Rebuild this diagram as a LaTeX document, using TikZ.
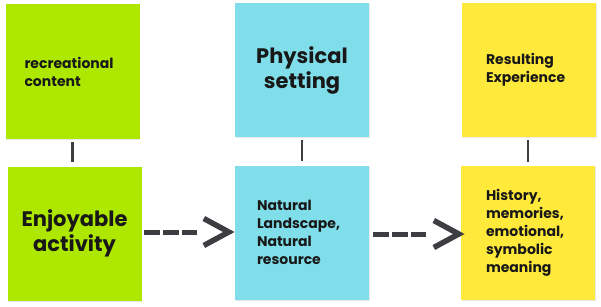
\documentclass[tikz,border=0pt]{standalone}
\usepackage{fontspec}
\setmainfont{Poppins}
\usetikzlibrary{shadows}
\definecolor{boxgreen}{RGB}{174,232,0}
\definecolor{boxcyan}{RGB}{128,222,234}
\definecolor{boxyellow}{RGB}{255,233,59}
\definecolor{ink}{RGB}{24,24,24}
\definecolor{linegray}{RGB}{62,62,66}
\tikzset{
  card/.style={minimum width=134pt, minimum height=134pt, inner sep=0pt, draw=none,
    drop shadow={opacity=0.18, shadow xshift=0.6pt, shadow yshift=-1.2pt},
    text=ink, font=\bfseries},
  small/.style={font=\bfseries\fontsize{14}{18}\selectfont, align=left},
  big/.style={font=\bfseries\fontsize{21}{25}\selectfont, align=center},
  tie/.style={draw=linegray, line width=2.4pt},
  dashline/.style={draw=linegray, line width=5pt, dash pattern=on 15.6pt off 3.2pt},
  chev/.style={draw=linegray, line width=5.5pt, miter limit=10}
}
\begin{document}
\begin{tikzpicture}[x=1pt,y=1pt]
\useasboundingbox (0,0) rectangle (601,306);
\node[card, fill=boxgreen, small, text width=96pt] (g1) at (72.5,234.5) {recreational\\content};
\node[card, fill=boxgreen, big, text width=130pt] (g2) at (74.5,72.5) {Enjoyable\\activity};
\node[card, fill=boxcyan, big, text width=130pt] (c1) at (302,236) {Physical\\setting};
\node[card, fill=boxcyan, small, text width=90pt] (c2) at (302,73.5) {Natural\\Landscape,\\Natural\\resource};
\node[card, fill=boxyellow, small, text width=86pt] (y1) at (529,236) {Resulting\\Experience};
\node[card, fill=boxyellow, small, text width=84pt] (y2) at (528,73.5) {History,\\memories,\\emotional,\\symbolic\\meaning};
% vertical ties
\draw[tie] ([yshift=-3pt]g1.south) -- ([yshift=4pt]g1.south |- g2.north);
\draw[tie] ([yshift=-3pt]c1.south) -- ([yshift=4pt]c1.south |- c2.north);
\draw[tie] ([yshift=-3pt]y1.south -| y2.north) -- ([yshift=3pt]y2.north);
% dashed arrows
\coordinate (a1s) at ([xshift=2.5pt]g2.east);
\coordinate (a1e) at ([xshift=-38pt]c2.west);
\draw[dashline] (a1s |- 0,74) -- (a1e |- 0,74);
\draw[chev] ([xshift=-31pt,yshift=13.5pt]c2.west |- 0,74) -- ([xshift=-6pt]c2.west |- 0,74) -- ([xshift=-31pt,yshift=-13.5pt]c2.west |- 0,74);
\coordinate (a2s) at ([xshift=4pt]c2.east);
\coordinate (a2e) at ([xshift=-33pt]y2.west);
\draw[dashline] (a2s |- 0,72) -- (a2e |- 0,72);
\draw[chev] ([xshift=-27pt,yshift=13.5pt]y2.west |- 0,72) -- ([xshift=-2pt]y2.west |- 0,72) -- ([xshift=-27pt,yshift=-13.5pt]y2.west |- 0,72);
\end{tikzpicture}
\end{document}
